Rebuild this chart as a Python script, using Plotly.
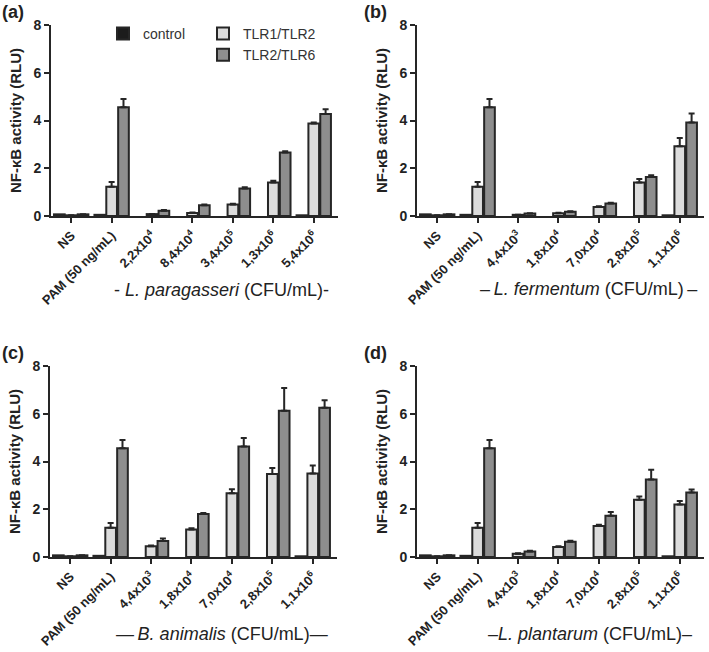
import plotly.graph_objects as go

series_names = ["control", "TLR1/TLR2", "TLR2/TLR6"]

cats_a = ["NS", "PAM (50 ng/mL)", "2,2x10<sup>4</sup>", "8,4x10<sup>4</sup>", "3,4x10<sup>5</sup>", "1,3x10<sup>6</sup>", "5,4x10<sup>6</sup>"]
ctrl_a = [0.07, 0.05, None, None, None, None, 0.03]
t12_a = [0.03, 1.22, 0.08, 0.13, 0.48, 1.40, 3.87]
t12_err_a = [0, 0.2, 0, 0.02, 0.03, 0.08, 0.05]
t26_a = [0.07, 4.55, 0.22, 0.45, 1.15, 2.66, 4.27]
t26_err_a = [0, 0.35, 0.03, 0.03, 0.05, 0.05, 0.2]

cats_b = ["NS", "PAM (50 ng/mL)", "4,4x10<sup>3</sup>", "1,8x10<sup>4</sup>", "7,0x10<sup>4</sup>", "2,8x10<sup>5</sup>", "1,1x10<sup>6</sup>"]
ctrl_b = [0.07, 0.05, None, None, None, None, 0.03]
t12_b = [0.03, 1.22, 0.05, 0.12, 0.38, 1.40, 2.92]
t12_err_b = [0, 0.2, 0, 0.02, 0.03, 0.15, 0.35]
t26_b = [0.07, 4.55, 0.10, 0.18, 0.52, 1.63, 3.92]
t26_err_b = [0, 0.35, 0.01, 0.02, 0.03, 0.08, 0.37]

cats_c = cats_b
ctrl_c = [0.07, 0.05, None, None, None, None, 0.03]
t12_c = [0.03, 1.22, 0.45, 1.15, 2.67, 3.48, 3.50]
t12_err_c = [0, 0.2, 0.03, 0.05, 0.17, 0.25, 0.33]
t26_c = [0.07, 4.55, 0.67, 1.80, 4.63, 6.13, 6.25]
t26_err_c = [0, 0.35, 0.1, 0.04, 0.35, 0.95, 0.32]

cats_d = cats_b
ctrl_d = [0.07, 0.05, None, None, None, None, 0.03]
t12_d = [0.03, 1.22, 0.14, 0.42, 1.30, 2.40, 2.20]
t12_err_d = [0, 0.2, 0.02, 0.03, 0.05, 0.13, 0.15]
t26_d = [0.07, 4.55, 0.23, 0.64, 1.73, 3.25, 2.70]
t26_err_d = [0, 0.35, 0.03, 0.04, 0.15, 0.4, 0.13]

species = [
    "- <i>L. paragasseri</i> (CFU/mL)-",
    "–\u2009<i>L. fermentum</i> (CFU/mL)\u2009–",
    "—\u2009<i>B. animalis</i> (CFU/mL)—",
    "–<i>L. plantarum</i> (CFU/mL)–",
]
panel_labels = ["(a)", "(b)", "(c)", "(d)"]
yticks = [0, 2, 4, 6, 8]

W, H = 709, 652
fills = ["#1c1c1c", "#dcdcdc", "#8e8e8e"]
edge = "#262626"
FONT = "Liberation Sans, Arial, sans-serif"

panels = [
    (cats_a, ctrl_a, t12_a, t12_err_a, t26_a, t26_err_a),
    (cats_b, ctrl_b, t12_b, t12_err_b, t26_b, t26_err_b),
    (cats_c, ctrl_c, t12_c, t12_err_c, t26_c, t26_err_c),
    (cats_d, ctrl_d, t12_d, t12_err_d, t26_d, t26_err_d),
]

# pixel layout of each plot area: (left, right, top, bottom)
boxes = [(51, 338, 25, 216), (417, 704, 25, 216), (50, 337, 366, 557), (417, 704, 366, 557)]
species_pos = [(221, 290), (588, 289), (222, 634), (590, 634)]

fig = go.Figure()
for i, (cats, ctrl, t12, e12, t26, e26) in enumerate(panels):
    xa = "x" if i == 0 else f"x{i+1}"
    ya = "y" if i == 0 else f"y{i+1}"
    vals = [ctrl, t12, t26]
    errs = [None, e12, e26]
    for s in range(3):
        kw = {}
        if errs[s] is not None:
            kw["error_y"] = dict(type="data", array=errs[s], arrayminus=[0] * len(errs[s]),
                                 symmetric=False, color=edge, thickness=2, width=3)
        fig.add_trace(go.Bar(
            x=cats, y=vals[s], name=series_names[s], xaxis=xa, yaxis=ya,
            marker=dict(color=fills[s], line=dict(color=edge, width=2)),
            showlegend=(i == 0), legend=("legend" if s == 0 else "legend2"),
            offsetgroup=str(s), **kw))

layout = dict(
    width=W, height=H, margin=dict(l=0, r=0, t=0, b=0, autoexpand=False),
    paper_bgcolor="white", plot_bgcolor="white",
    barmode="group", bargap=0.12, bargroupgap=0.1,
    font=dict(family=FONT, color="#222"),
    legend=dict(x=103 / W, y=1 - 18 / H, xanchor="left", yanchor="top",
                font=dict(size=14, family=FONT, color="#333"), bgcolor="rgba(0,0,0,0)",
                itemwidth=30, tracegroupgap=0),
    legend2=dict(x=203 / W, y=1 - 18 / H, xanchor="left", yanchor="top",
                 font=dict(size=14, family=FONT, color="#333"), bgcolor="rgba(0,0,0,0)",
                 itemwidth=30, tracegroupgap=0),
)

annotations = []
for i, (l, r, t, b) in enumerate(boxes):
    xk = "xaxis" if i == 0 else f"xaxis{i+1}"
    yk = "yaxis" if i == 0 else f"yaxis{i+1}"
    ya = "y" if i == 0 else f"y{i+1}"
    xa = "x" if i == 0 else f"x{i+1}"
    layout[xk] = dict(
        domain=[l / W, r / W], anchor=ya, type="category", range=[-0.5, 6.6],
        showline=True, linecolor=edge, linewidth=2, ticks="outside", ticklen=5,
        tickwidth=2, tickcolor=edge, tickangle=-45, automargin=False,
        tickfont=dict(size=13, family=FONT, weight="bold", color="#222"),
        showgrid=False, zeroline=False, fixedrange=True)
    layout[yk] = dict(
        domain=[1 - b / H, 1 - t / H], anchor=xa, range=[0, 8], tickvals=yticks,
        showline=True, linecolor=edge, linewidth=2, ticks="outside", ticklen=5,
        tickwidth=2, tickcolor=edge, automargin=False,
        tickfont=dict(size=14, family=FONT, weight="bold", color="#222"),
        title=dict(text="NF-κB activity (RLU)", standoff=8,
                   font=dict(size=15, family=FONT, weight="bold", color="#222")),
        showgrid=False, zeroline=False, fixedrange=True)
    # panel label
    annotations.append(dict(text=panel_labels[i], x=(0 if i % 2 == 0 else 362 / W),
                            y=1 - (0 if i < 2 else 341) / H, xref="paper", yref="paper",
                            xanchor="left", yanchor="top", showarrow=False,
                            font=dict(size=18, family=FONT, weight="bold", color="#222")))
    # species label
    cx, cy = species_pos[i]
    annotations.append(dict(text=species[i], x=cx / W, y=1 - cy / H, xref="paper", yref="paper",
                            xanchor="center", yanchor="middle", showarrow=False,
                            font=dict(size=18, family=FONT, color="#222")))

layout["annotations"] = annotations
fig.update_layout(**layout)
fig.write_html("out.html", config={"displayModeBar": False},
               post_script="document.body.style.margin='0';document.body.style.overflow='hidden';")
